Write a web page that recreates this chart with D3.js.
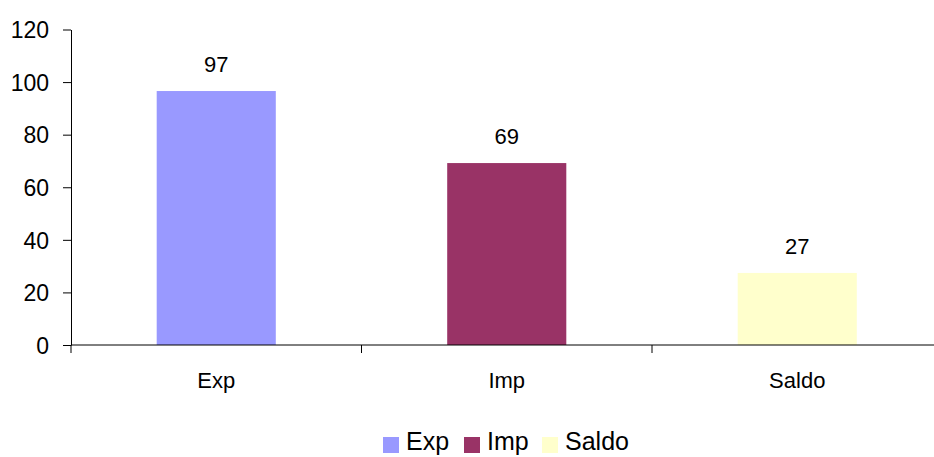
<!DOCTYPE html>
<html>
<head>
<meta charset="utf-8">
<script src="https://cdn.jsdelivr.net/npm/d3@7"></script>
<style>
  body { margin: 0; background: #fff; }
  text { font-family: "Liberation Sans", Arial, sans-serif; fill: #000; }
</style>
</head>
<body>
<div class="js-chart"></div>
<script>
const categories = ['Exp', 'Imp', 'Saldo'];
const values = [96.6, 69.2, 27.4];
const colors = ['#9999ff', '#993366', '#ffffcc'];
const yTicks = [0, 20, 40, 60, 80, 100, 120];

window.onload = () => {
  const width = 934;
  const height = 457;
  const left = 71;
  const right = 942.5;
  const top = 29.5;
  const bottom = 345;

  const svg = d3
    .select('.js-chart')
    .append('svg')
    .attr('width', width)
    .attr('height', height);

  const x = d3.scaleBand().domain(categories).range([left, right]).padding(0);
  const y = d3.scaleLinear().domain([0, 120]).range([bottom, top]);
  const barWidth = x.bandwidth() * 0.41;

  // Bars
  svg
    .selectAll('.bar')
    .data(categories)
    .enter()
    .append('rect')
    .attr('class', 'bar')
    .attr('x', d => x(d) + (x.bandwidth() - barWidth) / 2)
    .attr('y', (d, i) => y(values[i]))
    .attr('width', barWidth)
    .attr('height', (d, i) => y(0) - y(values[i]))
    .attr('fill', (d, i) => colors[i]);

  // Value labels
  svg
    .selectAll('.value')
    .data(categories)
    .enter()
    .append('text')
    .attr('class', 'value')
    .attr('x', d => x(d) + x.bandwidth() / 2)
    .attr('y', (d, i) => y(values[i]) - 19)
    .attr('text-anchor', 'middle')
    .style('font-size', '22px')
    .text((d, i) => d3.format('.0f')(values[i]));

  // Y axis
  const yAxis = svg
    .append('g')
    .attr('transform', `translate(${left},0)`)
    .call(d3.axisLeft(y).tickValues(yTicks).tickSize(8).tickSizeOuter(0).tickPadding(14));
  yAxis.selectAll('text').style('font-size', '23px').attr('dy', '0.36em');
  yAxis.selectAll('line, path').attr('stroke', '#000');

  // X axis line and ticks between categories
  svg
    .append('line')
    .attr('x1', left)
    .attr('x2', right)
    .attr('y1', y(0))
    .attr('y2', y(0))
    .attr('stroke', '#000');

  svg
    .selectAll('.xtick')
    .data(categories.map(d => x(d)).concat([right]))
    .enter()
    .append('line')
    .attr('class', 'xtick')
    .attr('x1', d => d)
    .attr('x2', d => d)
    .attr('y1', y(0))
    .attr('y2', y(0) + 8)
    .attr('stroke', '#000');

  svg
    .selectAll('.xlabel')
    .data(categories)
    .enter()
    .append('text')
    .attr('class', 'xlabel')
    .attr('x', d => x(d) + x.bandwidth() / 2)
    .attr('y', 388)
    .attr('text-anchor', 'middle')
    .style('font-size', '22px')
    .text(d => d);

  // Legend (kept just inside the bottom edge)
  const legendX = [383, 464, 542];
  const legend = svg
    .selectAll('.legend')
    .data(categories)
    .enter()
    .append('g')
    .attr('class', 'legend')
    .attr('transform', (d, i) => `translate(${legendX[i]},437)`);

  legend
    .append('rect')
    .attr('width', 16)
    .attr('height', 16)
    .attr('fill', (d, i) => colors[i]);

  legend
    .append('text')
    .attr('x', 23)
    .attr('y', 13)
    .style('font-size', '25px')
    .text(d => d);
};
</script>
</body>
</html>
